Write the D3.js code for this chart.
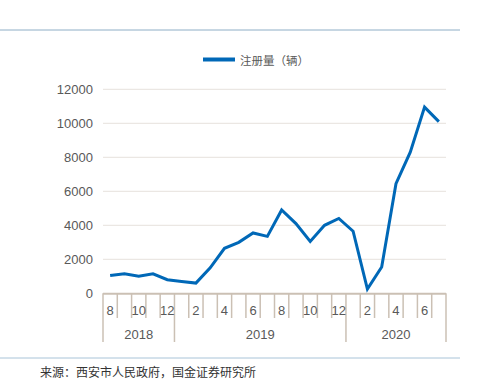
<!DOCTYPE html>
<html lang="zh">
<head>
<meta charset="UTF-8">
<script src="https://d3js.org/d3.v7.min.js"></script>
<style>
  body { margin: 0; background: #fff; }
  svg { display: block; }
</style>
</head>
<body>
<div id="chart"></div>
<script>
// data: monthly registrations, Aug 2018 - Jul 2020
const months = [8, 9, 10, 11, 12, 1, 2, 3, 4, 5, 6, 7, 8, 9, 10, 11, 12, 1, 2, 3, 4, 5, 6, 7];
const years = ["2018", "2018", "2018", "2018", "2018",
  "2019", "2019", "2019", "2019", "2019", "2019", "2019", "2019", "2019", "2019", "2019", "2019",
  "2020", "2020", "2020", "2020", "2020", "2020", "2020"];
const registrations = [1050, 1150, 1000, 1150, 800, 700, 600, 1500, 2650, 3000, 3550, 3350,
  4900, 4100, 3050, 4000, 4400, 3650, 250, 1550, 6450, 8300, 10950, 10100];
const yTicks = [0, 2000, 4000, 6000, 8000, 10000, 12000];
const seriesName = "注册量（辆）";
const source = "来源：西安市人民政府，国金证券研究所";

const width = 481, height = 385;
const plotLeft = 103, plotRight = 446, plotTop = 89.3, plotBottom = 293.3;
const labelColor = "#595959", axisColor = "#cbc0b4", lineColor = "#0068b7";
const font = "'Liberation Sans', Arial, sans-serif";
const cjk = "'Noto Sans CJK SC', sans-serif";

const svg = d3.select("#chart").append("svg")
  .attr("width", width).attr("height", height);

const keys = months.map((m, i) => i);
const x = d3.scaleBand().domain(keys).range([plotLeft, plotRight]);
const y = d3.scaleLinear().domain([0, 12000]).range([plotBottom, plotTop]);

// title cut off by the top edge, only its foot shows
svg.append("text").attr("x", 50).attr("y", -3)
  .attr("font-family", cjk).attr("font-size", 13).attr("fill", "#333")
  .text("图表：西安市新能源汽车月度注册量（辆）变化情况");
svg.append("line").attr("x1", 0).attr("x2", 460).attr("y1", 30).attr("y2", 30)
  .attr("stroke", "#8eaec6").attr("stroke-width", 1);
svg.append("line").attr("x1", 0).attr("x2", 460).attr("y1", 358).attr("y2", 358)
  .attr("stroke", "#a9c4d8").attr("stroke-width", 1);

// gridlines
svg.append("g").selectAll("line").data(yTicks.filter(d => d > 0)).join("line")
  .attr("x1", plotLeft).attr("x2", plotRight)
  .attr("y1", d => y(d)).attr("y2", d => y(d))
  .attr("stroke", "#e6e2dc").attr("stroke-width", 1);

// y labels
svg.append("g").selectAll("text").data(yTicks).join("text")
  .attr("x", 93).attr("y", d => y(d)).attr("dy", "0.36em")
  .attr("text-anchor", "end")
  .attr("font-family", font).attr("font-size", 13).attr("fill", labelColor)
  .text(d => d);

// x axis
const ax = svg.append("g");
ax.append("line").attr("x1", plotLeft).attr("x2", plotRight)
  .attr("y1", plotBottom + 0.5).attr("y2", plotBottom + 0.5)
  .attr("stroke", axisColor).attr("stroke-width", 2);
const edges = d3.range(months.length + 1);
const edgeX = i => i < months.length ? x(i) : x(months.length - 1) + x.bandwidth();
ax.selectAll(".tk").data(edges).join("line")
  .attr("class", "tk")
  .attr("x1", edgeX).attr("x2", edgeX)
  .attr("y1", plotBottom)
  .attr("y2", i => (i === 0 || i === months.length || years[i] !== years[i - 1]) ? 342 : 318)
  .attr("stroke", axisColor).attr("stroke-width", 1.5);
ax.selectAll(".ml").data(keys.filter(i => months[i] % 2 === 0)).join("text")
  .attr("class", "ml")
  .attr("x", i => x(i) + x.bandwidth() / 2).attr("y", 315)
  .attr("text-anchor", "middle")
  .attr("font-family", font).attr("font-size", 13).attr("fill", labelColor)
  .text(i => months[i]);
const yearGroups = d3.groups(keys, i => years[i]);
ax.selectAll(".yl").data(yearGroups).join("text")
  .attr("class", "yl")
  .attr("x", g => (x(g[1][0]) + x(g[1][g[1].length - 1]) + x.bandwidth()) / 2)
  .attr("y", 339)
  .attr("text-anchor", "middle")
  .attr("font-family", font).attr("font-size", 13).attr("fill", labelColor)
  .text(g => g[0]);

// line
const line = d3.line().x(i => x(i) + x.bandwidth() / 2).y(i => y(registrations[i]));
svg.append("path").datum(keys).attr("d", line)
  .attr("fill", "none").attr("stroke", lineColor).attr("stroke-width", 3)
  .attr("stroke-linejoin", "miter");

// legend
svg.append("line").attr("x1", 203).attr("x2", 235).attr("y1", 59.5).attr("y2", 59.5)
  .attr("stroke", lineColor).attr("stroke-width", 4);
svg.append("text").attr("x", 240).attr("y", 61).attr("dy", "0.36em")
  .attr("font-family", cjk).attr("font-size", 11.5).attr("fill", labelColor)
  .text(seriesName);

// source
svg.append("text").attr("x", 40).attr("y", 377)
  .attr("font-family", cjk).attr("font-size", 12).attr("fill", "#333")
  .text(source);
</script>
</body>
</html>
